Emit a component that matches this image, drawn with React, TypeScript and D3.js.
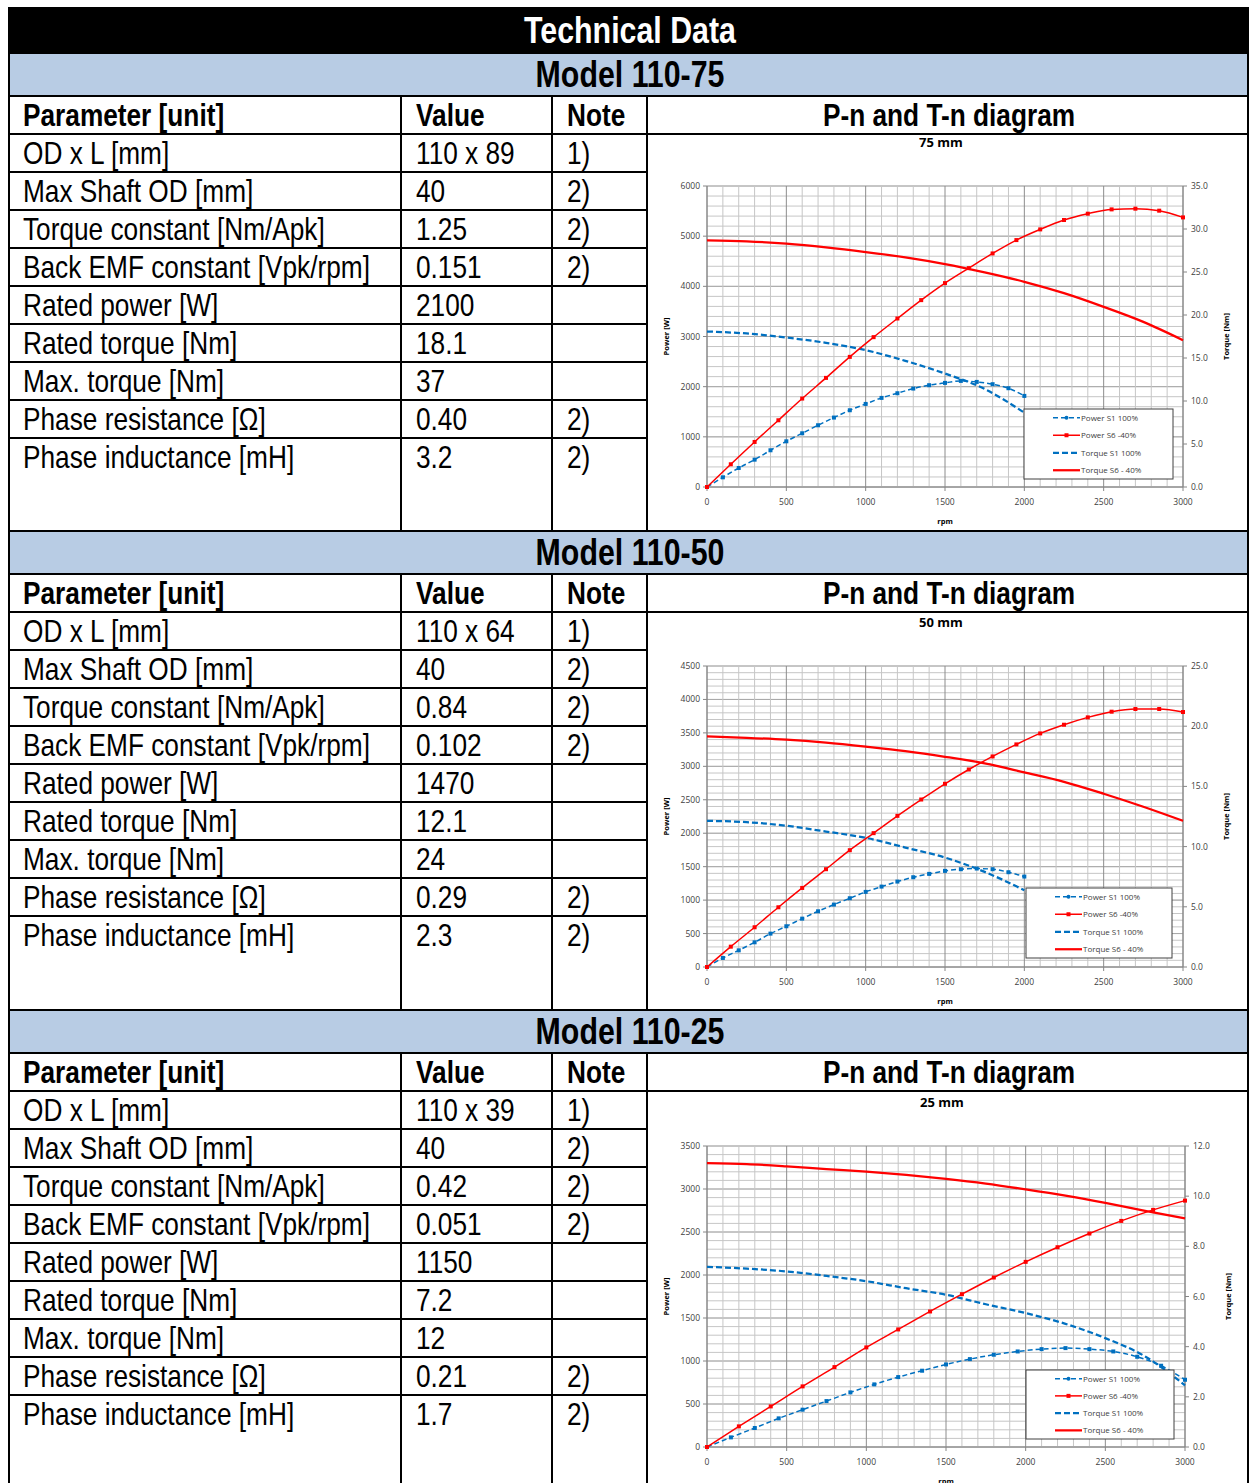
import React from 'react';
import * as d3 from 'd3';

// ---------------- Table data ----------------
const TITLE = 'Technical Data';
const MODELS = ['Model 110-75', 'Model 110-50', 'Model 110-25'];
const HEADERS = ['Parameter [unit]', 'Value', 'Note', 'P-n and T-n diagram'];
const PARAMS = [
  'OD x L [mm]',
  'Max Shaft OD [mm]',
  'Torque constant [Nm/Apk]',
  'Back EMF constant [Vpk/rpm]',
  'Rated power [W]',
  'Rated torque [Nm]',
  'Max. torque [Nm]',
  'Phase resistance [Ω]',
  'Phase inductance [mH]',
];
const NOTES = ['1)', '2)', '2)', '2)', '', '', '', '2)', '2)'];
const VALUES_75 = ['110 x 89', '40', '1.25', '0.151', '2100', '18.1', '37', '0.40', '3.2'];
const VALUES_50 = ['110 x 64', '40', '0.84', '0.102', '1470', '12.1', '24', '0.29', '2.3'];
const VALUES_25 = ['110 x 39', '40', '0.42', '0.051', '1150', '7.2', '12', '0.21', '1.7'];

// ---------------- Chart data ----------------
const CHART_TITLES = ['75 mm', '50 mm', '25 mm'];
const SERIES_NAMES = ['Power S1 100%', 'Power S6 -40%', 'Torque S1 100%', 'Torque S6 - 40%'];
const X_TICKS = [0, 500, 1000, 1500, 2000, 2500, 3000];

const RPM_STEP150 = [0, 150, 300, 450, 600, 750, 900, 1050, 1200, 1350, 1500, 1650, 1800, 1950, 2100, 2250, 2400, 2550, 2700, 2850, 3000];
const RPM_STEP100_TO2000 = [0, 100, 200, 300, 400, 500, 600, 700, 800, 900, 1000, 1100, 1200, 1300, 1400, 1500, 1600, 1700, 1800, 1900, 2000];
const RPM_STEP250 = [0, 250, 500, 750, 1000, 1250, 1500, 1750, 2000, 2250, 2500, 2750, 3000];
const RPM_STEP250_TO2000 = [0, 250, 500, 750, 1000, 1250, 1500, 1750, 2000];
const RPM_STEP200 = [0, 200, 400, 600, 800, 1000, 1200, 1400, 1600, 1800, 2000, 2200, 2400, 2600, 2800, 3000];

// 75 mm
const P_TICKS_75 = [0, 1000, 2000, 3000, 4000, 5000, 6000];
const T_TICKS_75 = [0, 5, 10, 15, 20, 25, 30, 35];
const POWER_S6_75 = [0, 453, 898, 1330, 1763, 2175, 2594, 2987, 3359, 3725, 4064, 4363, 4656, 4922, 5135, 5322, 5448, 5534, 5548, 5508, 5374];
const POWER_S1_75 = [0, 193, 379, 545, 732, 911, 1071, 1231, 1384, 1530, 1656, 1776, 1869, 1962, 2029, 2075, 2115, 2095, 2049, 1969, 1816];
const TORQUE_S6_75 = [28.68, 28.56, 28.29, 27.86, 27.32, 26.7, 25.92, 24.95, 23.86, 22.54, 20.95, 19.2, 17.07];
const TORQUE_S1_75 = [18.08, 17.85, 17.38, 16.76, 15.91, 14.67, 13.19, 11.4, 8.64];

// 50 mm
const P_TICKS_50 = [0, 500, 1000, 1500, 2000, 2500, 3000, 3500, 4000, 4500];
const T_TICKS_50 = [0, 5, 10, 15, 20, 25];
const POWER_S6_50 = [0, 304, 594, 893, 1182, 1462, 1746, 2001, 2260, 2504, 2739, 2953, 3148, 3328, 3492, 3622, 3732, 3817, 3857, 3857, 3812];
const POWER_S1_50 = [0, 135, 249, 369, 499, 609, 723, 833, 933, 1028, 1123, 1202, 1277, 1342, 1392, 1437, 1462, 1472, 1462, 1417, 1352];
const TORQUE_S6_50 = [19.15, 19.04, 18.88, 18.63, 18.3, 17.93, 17.46, 16.91, 16.16, 15.38, 14.39, 13.31, 12.14];
const TORQUE_S1_50 = [12.14, 12.03, 11.73, 11.25, 10.73, 9.92, 9.09, 7.9, 6.38];

// 25 mm
const P_TICKS_25 = [0, 500, 1000, 1500, 2000, 2500, 3000, 3500];
const T_TICKS_25 = [0, 2, 4, 6, 8, 10, 12];
const POWER_S6_25 = [0, 240, 472, 705, 929, 1158, 1367, 1576, 1777, 1971, 2153, 2323, 2482, 2629, 2757, 2865];
const POWER_S1_25 = [0, 112, 221, 333, 434, 534, 635, 728, 813, 887, 960, 1022, 1073, 1111, 1138, 1150, 1138, 1111, 1049, 945, 782];
const TORQUE_S6_25 = [11.32, 11.28, 11.19, 11.08, 10.98, 10.85, 10.69, 10.5, 10.27, 10.02, 9.73, 9.41, 9.11];
const TORQUE_S1_25 = [7.18, 7.11, 7.0, 6.82, 6.61, 6.33, 6.07, 5.69, 5.34, 4.91, 4.34, 3.61, 2.46];

// ---------------- styles ----------------
const SANS = "'Liberation Sans', Arial, sans-serif";
const NARROW_SCALE = 0.82;
const CHARTFONT = "'Open Sans', 'Noto Sans', sans-serif";
const BLUE = '#0070C0';
const RED = '#FF0000';
const BAND = '#B8CCE4';

function NText({ x, y, size, bold, fill = '#000', anchor = 'start', children }: any) {
  return (
    <text
      transform={`translate(${x},${y}) scale(${NARROW_SCALE},1)`}
      textAnchor={anchor}
      fontFamily={SANS}
      fontWeight={bold ? 'bold' : 'normal'}
      fontSize={size}
      fill={fill}
    >
      {children}
    </text>
  );
}

type ChartCfg = {
  title: string;
  top: number;
  bottom: number;
  left: number;
  right: number;
  pTicks: number[];
  pMinor: number;
  tTicks: number[];
  tFmt: (v: number) => string;
  legend: { x0: number; x1: number; y0: number; y1: number };
  titleY: number;
  powerS6: { rpm: number[]; v: number[] };
  powerS1: { rpm: number[]; v: number[] };
  torqueS6: { rpm: number[]; v: number[] };
  torqueS1: { rpm: number[]; v: number[] };
};

function Chart({ c }: { c: ChartCfg }) {
  const pMax = c.pTicks[c.pTicks.length - 1];
  const tMax = c.tTicks[c.tTicks.length - 1];
  const x = d3.scaleLinear().domain([0, 3000]).range([c.left, c.right]);
  const yP = d3.scaleLinear().domain([0, pMax]).range([c.bottom, c.top]);
  const yT = d3.scaleLinear().domain([0, tMax]).range([c.bottom, c.top]);
  const lineP = d3
    .line<[number, number]>()
    .x((d) => x(d[0]))
    .y((d) => yP(d[1]))
    .curve(d3.curveMonotoneX);
  const lineT = d3
    .line<[number, number]>()
    .x((d) => x(d[0]))
    .y((d) => yT(d[1]))
    .curve(d3.curveMonotoneX);
  const zip = (s: { rpm: number[]; v: number[] }) => s.rpm.map((r, i) => [r, s.v[i]] as [number, number]);
  const vMinor = d3.range(0, 3001, 100);
  const hMinor = d3.range(0, pMax + 0.001, c.pMinor);
  const midY = (c.top + c.bottom) / 2;
  const midX = (c.left + c.right) / 2;
  const L = c.legend;
  const rowH = (L.y1 - L.y0) / 4;
  const sx0 = L.x0 + 29;
  const sx1 = L.x0 + 56;
  return (
    <g>
      <text x={midX - 4} y={c.titleY + 4} textAnchor="middle" fontFamily={CHARTFONT} fontWeight="bold" fontSize={13} fill="#000">
        {c.title}
      </text>
      {/* grid */}
      {hMinor.map((v) => (
        <line key={'h' + v} x1={c.left} x2={c.right} y1={yP(v)} y2={yP(v)} stroke="#c6c6c6" strokeWidth={1} />
      ))}
      {c.pTicks.map((v) => (
        <line key={'hm' + v} x1={c.left} x2={c.right} y1={yP(v)} y2={yP(v)} stroke="#a8a8a8" strokeWidth={1} />
      ))}
      {vMinor.map((v) => (
        <line key={'v' + v} x1={x(v)} x2={x(v)} y1={c.top} y2={c.bottom} stroke={v % 500 === 0 ? '#8c8c8c' : '#c6c6c6'} strokeWidth={1} />
      ))}
      {/* axes */}
      <line x1={c.left} x2={c.left} y1={c.top} y2={c.bottom} stroke="#868686" />
      <line x1={c.right} x2={c.right} y1={c.top} y2={c.bottom} stroke="#868686" />
      <line x1={c.left} x2={c.right} y1={c.bottom} y2={c.bottom} stroke="#868686" />
      {c.pTicks.map((v) => (
        <g key={'pt' + v}>
          <line x1={c.left - 4} x2={c.left} y1={yP(v)} y2={yP(v)} stroke="#868686" />
          <text x={c.left - 7} y={yP(v) + 3} textAnchor="end" fontFamily={CHARTFONT} fontSize={8.5} fill="#404040">
            {v}
          </text>
        </g>
      ))}
      {c.tTicks.map((v) => (
        <g key={'tt' + v}>
          <line x1={c.right} x2={c.right + 4} y1={yT(v)} y2={yT(v)} stroke="#868686" />
          <text x={c.right + 8} y={yT(v) + 3} textAnchor="start" fontFamily={CHARTFONT} fontSize={8.5} fill="#404040">
            {c.tFmt(v)}
          </text>
        </g>
      ))}
      {X_TICKS.map((v) => (
        <g key={'xt' + v}>
          <line x1={x(v)} x2={x(v)} y1={c.bottom} y2={c.bottom + 4} stroke="#868686" />
          <text x={x(v)} y={c.bottom + 18} textAnchor="middle" fontFamily={CHARTFONT} fontSize={8.5} fill="#404040">
            {v}
          </text>
        </g>
      ))}
      <text x={midX} y={c.bottom + 37} textAnchor="middle" fontFamily={CHARTFONT} fontWeight="bold" fontSize={7.5} fill="#000">
        rpm
      </text>
      <text transform={`translate(${c.left - 38},${midY}) rotate(-90)`} textAnchor="middle" fontFamily={CHARTFONT} fontWeight="bold" fontSize={7.5} fill="#000">
        Power [W]
      </text>
      <text transform={`translate(${c.right + 46},${midY}) rotate(-90)`} textAnchor="middle" fontFamily={CHARTFONT} fontWeight="bold" fontSize={7.5} fill="#000">
        Torque [Nm]
      </text>
      {/* series */}
      <path d={lineT(zip(c.torqueS6)) || ''} fill="none" stroke={RED} strokeWidth={2.25} />
      <path d={lineT(zip(c.torqueS1)) || ''} fill="none" stroke={BLUE} strokeWidth={2.25} strokeDasharray="6,3" />
      <path d={lineP(zip(c.powerS1)) || ''} fill="none" stroke={BLUE} strokeWidth={1.5} strokeDasharray="5,3" />
      {zip(c.powerS1).map((d, i) => (
        <rect key={'m1' + i} x={x(d[0]) - 2} y={yP(d[1]) - 2} width={4} height={4} fill={BLUE} />
      ))}
      <path d={lineP(zip(c.powerS6)) || ''} fill="none" stroke={RED} strokeWidth={1.5} />
      {zip(c.powerS6).map((d, i) => (
        <rect key={'m6' + i} x={x(d[0]) - 2} y={yP(d[1]) - 2} width={4} height={4} fill={RED} />
      ))}
      {/* legend */}
      <rect x={L.x0} y={L.y0} width={L.x1 - L.x0} height={L.y1 - L.y0} fill="#fff" stroke="#404040" strokeWidth={1} />
      {SERIES_NAMES.map((name, i) => {
        const yy = L.y0 + rowH * (i + 0.5);
        return (
          <g key={name}>
            {i === 0 && (
              <g>
                <line x1={sx0} x2={sx1} y1={yy} y2={yy} stroke={BLUE} strokeWidth={1.5} strokeDasharray="5,3" />
                <circle cx={(sx0 + sx1) / 2} cy={yy} r={2} fill={BLUE} />
              </g>
            )}
            {i === 1 && (
              <g>
                <line x1={sx0} x2={sx1} y1={yy} y2={yy} stroke={RED} strokeWidth={1.5} />
                <rect x={(sx0 + sx1) / 2 - 2} y={yy - 2} width={4} height={4} fill={RED} />
              </g>
            )}
            {i === 2 && <line x1={sx0} x2={sx1} y1={yy} y2={yy} stroke={BLUE} strokeWidth={2.25} strokeDasharray="6,3" />}
            {i === 3 && <line x1={sx0} x2={sx1} y1={yy} y2={yy} stroke={RED} strokeWidth={2.25} />}
            <text x={sx1 + 1} y={yy + 3} fontFamily={CHARTFONT} fontSize={8} fill="#404040">
              {name}
            </text>
          </g>
        );
      })}
    </g>
  );
}

const SECTION_TOPS = [53, 531, 1010];
const SECTION_ENDS = [531, 1010, 1490];
const COL_X = [9, 401, 552, 647, 1248];
const BAND_H = 43;
const ROW_H = 38;

export default function App() {
  const values = [VALUES_75, VALUES_50, VALUES_25];
  const fmt1 = (v: number) => v.toFixed(1);
  const charts: ChartCfg[] = [
    {
      title: CHART_TITLES[0], top: 186, bottom: 487, left: 707, right: 1183,
      pTicks: P_TICKS_75, pMinor: 200, tTicks: T_TICKS_75, tFmt: fmt1,
      legend: { x0: 1024, x1: 1173, y0: 409, y1: 479 }, titleY: 143,
      powerS6: { rpm: RPM_STEP150, v: POWER_S6_75 },
      powerS1: { rpm: RPM_STEP100_TO2000, v: POWER_S1_75 },
      torqueS6: { rpm: RPM_STEP250, v: TORQUE_S6_75 },
      torqueS1: { rpm: RPM_STEP250_TO2000, v: TORQUE_S1_75 },
    },
    {
      title: CHART_TITLES[1], top: 666, bottom: 967, left: 707, right: 1183,
      pTicks: P_TICKS_50, pMinor: 100, tTicks: T_TICKS_50, tFmt: fmt1,
      legend: { x0: 1026, x1: 1172, y0: 888, y1: 958 }, titleY: 623,
      powerS6: { rpm: RPM_STEP150, v: POWER_S6_50 },
      powerS1: { rpm: RPM_STEP100_TO2000, v: POWER_S1_50 },
      torqueS6: { rpm: RPM_STEP250, v: TORQUE_S6_50 },
      torqueS1: { rpm: RPM_STEP250_TO2000, v: TORQUE_S1_50 },
    },
    {
      title: CHART_TITLES[2], top: 1146, bottom: 1447, left: 707, right: 1185,
      pTicks: P_TICKS_25, pMinor: 100, tTicks: T_TICKS_25, tFmt: fmt1,
      legend: { x0: 1026, x1: 1174, y0: 1370, y1: 1439 }, titleY: 1103,
      powerS6: { rpm: RPM_STEP200, v: POWER_S6_25 },
      powerS1: { rpm: RPM_STEP150, v: POWER_S1_25 },
      torqueS6: { rpm: RPM_STEP250, v: TORQUE_S6_25 },
      torqueS1: { rpm: RPM_STEP250, v: TORQUE_S1_25 },
    },
  ];

  return (
    <svg
      width={1249}
      height={1483}
      style={{ position: 'absolute', left: 0, top: 0, background: '#fff' }}
      xmlns="http://www.w3.org/2000/svg"
    >
      <rect x={0} y={0} width={1249} height={1483} fill="#fff" />
      {/* title bar */}
      <rect x={8} y={7} width={1241} height={46} fill="#000" />
      <NText x={630} y={43} size={37} bold fill="#fff" anchor="middle">{TITLE}</NText>
      {SECTION_TOPS.map((T, s) => {
        const end = SECTION_ENDS[s];
        const headTop = T + BAND_H;
        const rowsTop = headTop + ROW_H;
        return (
          <g key={s}>
            <rect x={9} y={T} width={1240} height={BAND_H} fill={BAND} />
            <NText x={630} y={T + 34} size={37} bold anchor="middle">{MODELS[s]}</NText>
            {/* header */}
            <NText x={23} y={headTop + 30} size={32} bold>{HEADERS[0]}</NText>
            <NText x={416} y={headTop + 30} size={32} bold>{HEADERS[1]}</NText>
            <NText x={567} y={headTop + 30} size={32} bold>{HEADERS[2]}</NText>
            <NText x={949} y={headTop + 30} size={32} bold anchor="middle">{HEADERS[3]}</NText>
            {PARAMS.map((p, k) => (
              <g key={k}>
                <NText x={23} y={rowsTop + ROW_H * k + 30} size={32}>{p}</NText>
                <NText x={416} y={rowsTop + ROW_H * k + 30} size={32}>{values[s][k]}</NText>
                <NText x={567} y={rowsTop + ROW_H * k + 30} size={32}>{NOTES[k]}</NText>
              </g>
            ))}
            {/* lines */}
            <line x1={8} x2={1249} y1={T} y2={T} stroke="#000" strokeWidth={2} />
            <line x1={8} x2={1249} y1={headTop} y2={headTop} stroke="#000" strokeWidth={2} />
            <line x1={8} x2={1249} y1={rowsTop} y2={rowsTop} stroke="#000" strokeWidth={2} />
            {d3.range(1, PARAMS.length).map((k) => (
              <line key={'rl' + k} x1={8} x2={COL_X[3]} y1={rowsTop + ROW_H * k} y2={rowsTop + ROW_H * k} stroke="#000" strokeWidth={2} />
            ))}
            {COL_X.slice(1, 4).map((cx) => (
              <line key={'cl' + cx} x1={cx} x2={cx} y1={headTop} y2={end} stroke="#000" strokeWidth={2} />
            ))}
            <Chart c={charts[s]} />
          </g>
        );
      })}
      <line x1={COL_X[0]} x2={COL_X[0]} y1={7} y2={1483} stroke="#000" strokeWidth={2} />
      <line x1={COL_X[4]} x2={COL_X[4]} y1={7} y2={1483} stroke="#000" strokeWidth={2} />
    </svg>
  );
}
